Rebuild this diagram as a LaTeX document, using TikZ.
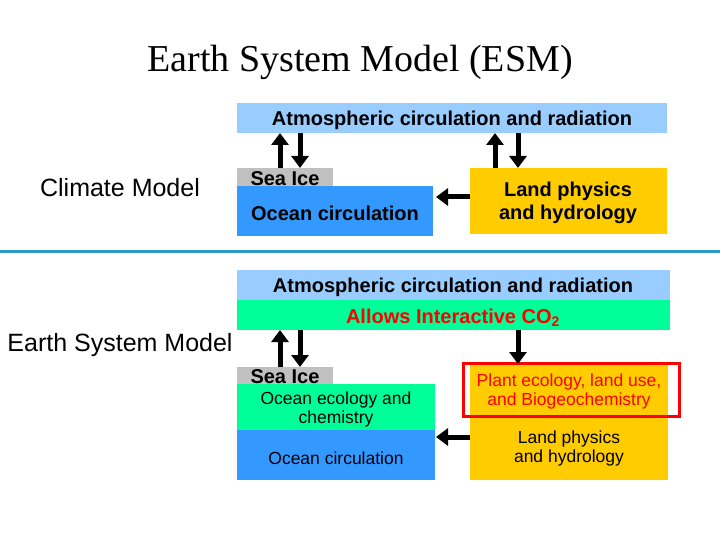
\documentclass[tikz,border=0pt]{standalone}
\usepackage{fontspec}
\setmainfont{Liberation Sans}
\newfontfamily\serif{Liberation Serif}
\usetikzlibrary{arrows.meta}
\definecolor{lblue}{HTML}{99CCFF}
\definecolor{oblue}{HTML}{3399FF}
\definecolor{ygold}{HTML}{FFCC00}
\definecolor{mint}{HTML}{00FF99}
\definecolor{sgray}{HTML}{C0C0C0}
\definecolor{sep}{HTML}{3399CC}
\tikzset{
 bigarrow/.style={line width=5pt,-{Triangle[length=12pt,width=17pt]}},
 lbl/.style={font=\bfseries\fontsize{20}{23}\selectfont},
 sm/.style={font=\fontsize{17.5}{19}\selectfont}
}
\begin{document}
\begin{tikzpicture}[x=1pt,y=-1pt]
\useasboundingbox (0,0) rectangle (720,540);
\node[font=\serif\fontsize{38}{42}\selectfont] (title) at (360,62) {Earth System Model (ESM)};
% climate model
\fill[lblue] (237,103) rectangle (667,133);
\node[lbl] (atm1) at (452,120) {Atmospheric circulation and radiation};
\node[font=\fontsize{25}{28}\selectfont] (cm) at (120,188) {Climate Model};
\fill[oblue] (237,186) rectangle (433,236);
\node[lbl] (oc1) at (335,213) {Ocean circulation};
\fill[sgray] (237,168) rectangle (333,186);
\node[lbl] (si1) at (285,179) {Sea Ice};
\fill[ygold] (470,168) rectangle (667,234);
\node[lbl,align=center] (lp1) at (568,203) {Land physics\\and hydrology};
\coordinate (a1t) at (280,133); \coordinate (a1b) at (280,168);
\coordinate (a2t) at (300,133); \coordinate (a2b) at (300,168);
\coordinate (a3t) at (495,133); \coordinate (a3b) at (495,168);
\coordinate (a4t) at (518,133); \coordinate (a4b) at (518,168);
\draw[bigarrow] (a1b) -- (a1t);
\draw[bigarrow] (a2t) -- (a2b);
\draw[bigarrow] (a3b) -- (a3t);
\draw[bigarrow] (a4t) -- (a4b);
\coordinate (h1a) at (470,197); \coordinate (h1b) at (436,197);
\draw[bigarrow] (h1a) -- (h1b);
% separator
\coordinate (s1) at (0,251); \coordinate (s2) at (720,251);
\draw[sep,line width=3pt] (s1) -- (s2);
% ESM
\fill[lblue] (237,270) rectangle (670,300);
\node[lbl] (atm2) at (453,287) {Atmospheric circulation and radiation};
\fill[mint] (237,300) rectangle (670,330);
\node[lbl,text=red] (co2) at (453,318) {Allows Interactive CO\textsubscript{2}};
\node[font=\fontsize{25}{28}\selectfont] (esm) at (120,345) {Earth System Model};
\fill[mint] (237,384) rectangle (435,430);
\node[sm,align=center] (oe) at (336,409) {Ocean ecology and\\chemistry};
\fill[oblue] (237,430) rectangle (435,480);
\node[sm] (oc2) at (336,458) {Ocean circulation};
\fill[sgray] (237,367) rectangle (333,384);
\node[lbl] (si2) at (285,377) {Sea Ice};
\fill[ygold] (470,362) rectangle (668,480);
\draw[red,line width=3pt] (463,363) rectangle (679,416);
\node[sm,text=red,align=center] (pe) at (569,391) {Plant ecology, land use,\\and Biogeochemistry};
\node[sm,align=center] (lp2) at (569,448) {Land physics\\and hydrology};
\coordinate (b1t) at (280,330); \coordinate (b1b) at (280,367);
\coordinate (b2t) at (300,330); \coordinate (b2b) at (300,367);
\coordinate (b4t) at (518,330); \coordinate (b4b) at (518,364);
\draw[bigarrow] (b1b) -- (b1t);
\draw[bigarrow] (b2t) -- (b2b);
\draw[bigarrow] (b4t) -- (b4b);
\coordinate (h2a) at (470,437); \coordinate (h2b) at (436,437);
\draw[bigarrow] (h2a) -- (h2b);
\end{tikzpicture}
\end{document}
